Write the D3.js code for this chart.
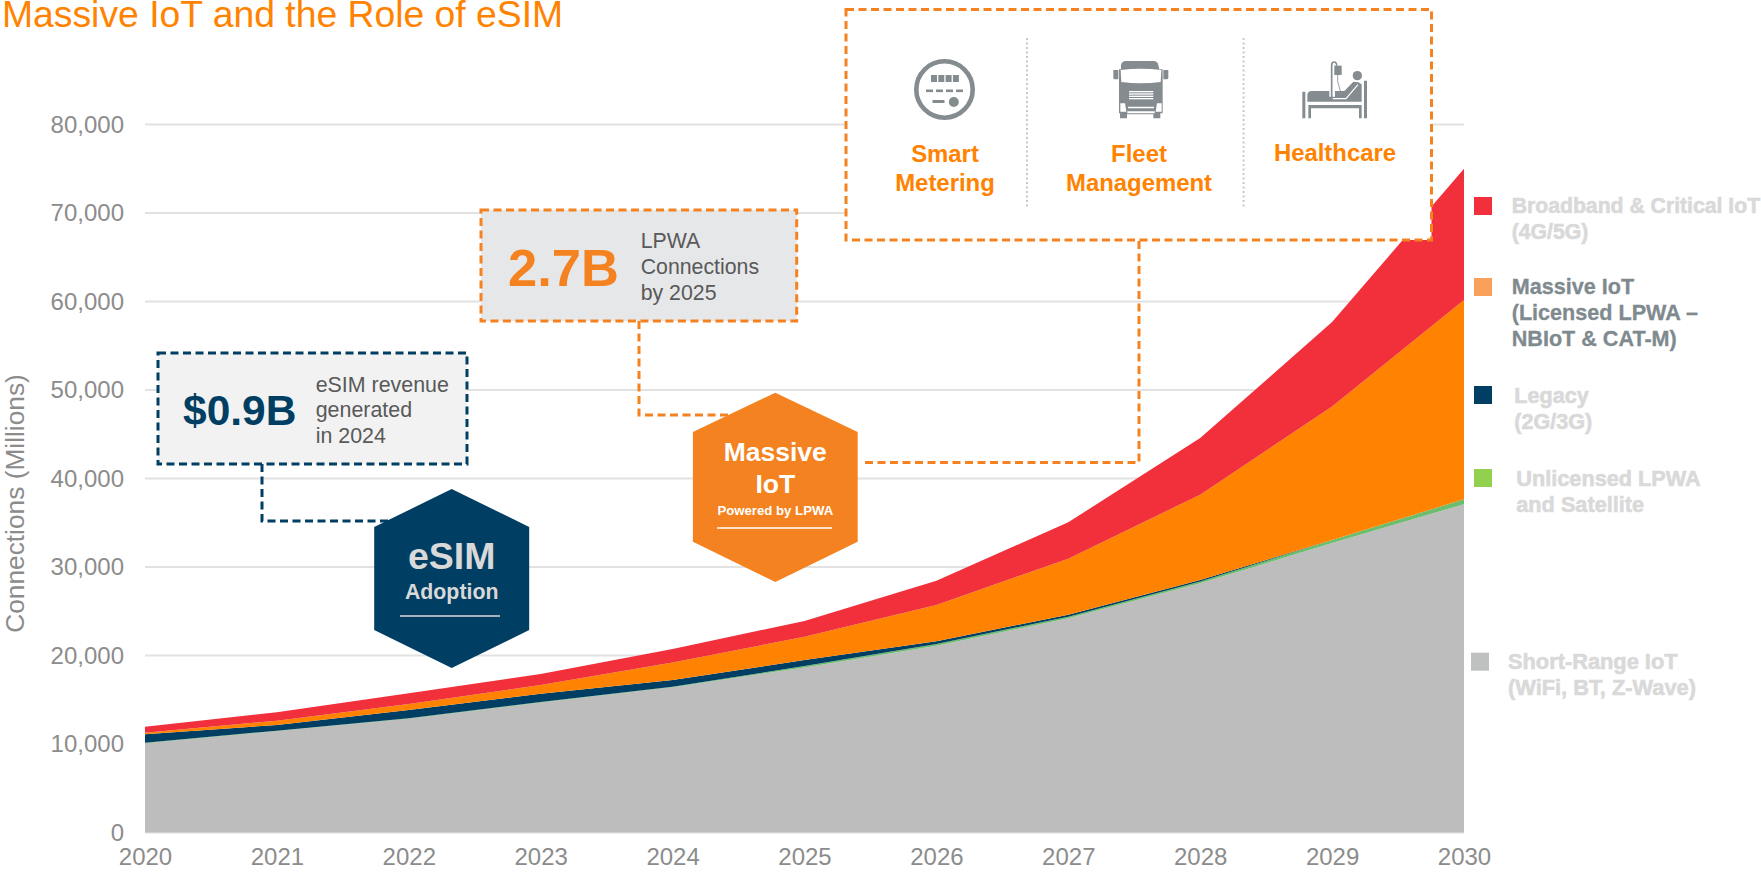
<!DOCTYPE html>
<html>
<head>
<meta charset="utf-8">
<title>Massive IoT and the Role of eSIM</title>
<script src="https://cdn.jsdelivr.net/npm/d3@7"></script>
<style>
  html, body { margin: 0; padding: 0; background: #fff; overflow: hidden; }
  svg { display: block; }
  text { font-family: "Liberation Sans", Arial, sans-serif; }
</style>
</head>
<body>
<div id="chart"></div>
<script>
// values, millions of connections
const years = [2020, 2021, 2022, 2023, 2024, 2025, 2026, 2027, 2028, 2029, 2030];
const shortRange = [10080, 11470, 12850, 14700, 16400, 18650, 21100, 24200, 28150, 32700, 37100];
const unlicensed = [70, 30, 50, 50, 70, 150, 200, 190, 200, 350, 550];
const legacy = [940, 650, 940, 930, 760, 680, 300, 220, 180, 0, 0];
const massive = [190, 480, 680, 990, 1970, 2640, 4100, 6330, 9640, 15080, 22520];
const broadband = [670, 950, 1210, 1230, 1530, 1780, 2750, 4110, 6410, 9540, 14830];

const yTicks = [0, 10000, 20000, 30000, 40000, 50000, 60000, 70000, 80000];
const seriesKeys = ["shortRange", "unlicensed", "legacy", "massive", "broadband"];
const seriesColors = ["#bdbdbd", "#6cbd6e", "#003f63", "#ff8300", "#f1303c"];

const orange = "#f58220";
const navy = "#003f63";
const iconGrey = "#858c90";

const width = 1761, height = 877;
const svg = d3.select("#chart").append("svg")
  .attr("width", width)
  .attr("height", height);

const x = d3.scaleLinear().domain([2020, 2030]).range([145, 1464]);
const y = d3.scaleLinear().domain([0, 80000]).range([832.5, 124.5]);

// grid
svg.append("g")
  .selectAll("line")
  .data(yTicks)
  .join("line")
  .attr("x1", x(2020))
  .attr("x2", x(2030))
  .attr("y1", d => y(d))
  .attr("y2", d => y(d))
  .attr("stroke", "#e2e2e2")
  .attr("stroke-width", 2);

// stacked areas
const rows = years.map((year, i) => ({
  year,
  shortRange: shortRange[i],
  unlicensed: unlicensed[i],
  legacy: legacy[i],
  massive: massive[i],
  broadband: broadband[i]
}));
const stacked = d3.stack().keys(seriesKeys)(rows);
const area = d3.area()
  .x(d => x(d.data.year))
  .y0(d => y(d[0]))
  .y1(d => y(d[1]));

svg.append("g")
  .selectAll("path")
  .data(stacked)
  .join("path")
  .attr("d", area)
  .attr("fill", (d, i) => seriesColors[i]);

// axes
const yAxis = d3.axisLeft(y)
  .tickValues(yTicks)
  .tickSize(0)
  .tickPadding(21)
  .tickFormat(d3.format(","));
svg.append("g")
  .attr("transform", `translate(${x(2020)},0)`)
  .call(yAxis)
  .call(g => g.select(".domain").remove())
  .call(g => g.selectAll("text")
    .attr("font-size", 24)
    .attr("font-family", "'Liberation Sans', Arial, sans-serif")
    .attr("fill", "#8c8c8c"));

const xAxis = d3.axisBottom(x)
  .tickValues(years)
  .tickSize(0)
  .tickPadding(15)
  .tickFormat(d3.format("d"));
svg.append("g")
  .attr("transform", `translate(0,${y(0)})`)
  .call(xAxis)
  .call(g => g.select(".domain").remove())
  .call(g => g.selectAll("text")
    .attr("font-size", 24)
    .attr("font-family", "'Liberation Sans', Arial, sans-serif")
    .attr("fill", "#8c8c8c"));

svg.append("text")
  .attr("transform", "translate(24,503.5) rotate(-90)")
  .attr("text-anchor", "middle")
  .attr("font-size", 26.3)
  .attr("fill", "#8c8c8c")
  .text("Connections (Millions)");

// title
svg.append("text")
  .attr("x", 2)
  .attr("y", 27)
  .attr("font-size", 37.3)
  .attr("fill", "#ff8300")
  .text("Massive IoT and the Role of eSIM");

function dashed(points, color) {
  svg.append("path")
    .attr("d", d3.line()(points))
    .attr("fill", "none")
    .attr("stroke", color)
    .attr("stroke-width", 3)
    .attr("stroke-dasharray", "8,4.5");
}

function calloutBox(x0, y0, x1, y1, fill, color) {
  svg.append("rect")
    .attr("x", x0).attr("y", y0)
    .attr("width", x1 - x0).attr("height", y1 - y0)
    .attr("fill", fill)
    .attr("stroke", color)
    .attr("stroke-width", 3)
    .attr("stroke-dasharray", "8,4.5");
}

function hexagon(cx, top, bottom, rx, ySide0, ySide1, color) {
  svg.append("polygon")
    .attr("points", [[cx, top], [cx + rx, ySide0], [cx + rx, ySide1], [cx, bottom], [cx - rx, ySide1], [cx - rx, ySide0]].join(" "))
    .attr("fill", color);
}

function label(px, py, str, size, color, bold, anchor) {
  return svg.append("text")
    .attr("x", px)
    .attr("y", py)
    .attr("font-size", size)
    .attr("font-weight", bold ? "bold" : "normal")
    .attr("text-anchor", anchor || "start")
    .attr("fill", color)
    .text(str);
}

// connectors go under the boxes and hexagons
dashed([[262, 464], [262, 521], [400, 521]], navy);
dashed([[639, 321], [639, 415], [740, 415]], orange);
dashed([[865, 462.5], [1139, 462.5], [1139, 240]], orange);

// eSIM callout
calloutBox(158, 353, 467, 464, "#f2f2f2", navy);
label(183, 425, "$0.9B", 42.5, navy, true);
label(315.7, 391.7, "eSIM revenue", 21.4, "#595959");
label(315.7, 417, "generated", 21.4, "#595959");
label(315.7, 443, "in 2024", 21.4, "#595959");

hexagon(451.7, 489, 668, 77.5, 527, 630, navy);
label(451.7, 569, "eSIM", 37.5, "#d9d9d9", true, "middle");
label(451.7, 599, "Adoption", 21.3, "#d9d9d9", true, "middle");
svg.append("line").attr("x1", 400).attr("x2", 500).attr("y1", 616).attr("y2", 616)
  .attr("stroke", "#d9d9d9").attr("stroke-width", 1.5);

// LPWA callout
calloutBox(481, 210, 796.7, 321, "#e6e7e8", orange);
label(508, 285.7, "2.7B", 52.5, orange, true);
label(640.7, 248, "LPWA", 21.3, "#595959");
label(640.7, 274, "Connections", 21.3, "#595959");
label(640.7, 300, "by 2025", 21.3, "#595959");

hexagon(775.3, 392.7, 582, 82.4, 432, 541.7, orange);
label(775.3, 460.7, "Massive", 26.5, "#fff", true, "middle");
label(775.3, 493, "IoT", 26.5, "#fff", true, "middle");
label(775.3, 515, "Powered by LPWA", 13.2, "#fff", true, "middle");
svg.append("line").attr("x1", 717).attr("x2", 832).attr("y1", 528).attr("y2", 528)
  .attr("stroke", "#fff").attr("stroke-width", 1.5);

// applications box sits on top of the areas
calloutBox(846, 9.5, 1431.5, 240, "#fff", orange);
[1027, 1243.6].forEach(px => {
  svg.append("line")
    .attr("x1", px).attr("x2", px).attr("y1", 38).attr("y2", 209)
    .attr("stroke", "#c9c9c9").attr("stroke-width", 2).attr("stroke-dasharray", "2,2.5");
});
label(945, 162, "Smart", 23.9, "#ff8300", true, "middle");
label(945, 191, "Metering", 23.9, "#ff8300", true, "middle");
label(1139, 162, "Fleet", 23.9, "#ff8300", true, "middle");
label(1139, 191, "Management", 23.9, "#ff8300", true, "middle");
label(1335, 161, "Healthcare", 23.9, "#ff8300", true, "middle");

// meter icon
const meter = svg.append("g").attr("fill", iconGrey);
meter.append("circle").attr("cx", 944.5).attr("cy", 89.5).attr("r", 28.2)
  .attr("fill", "none").attr("stroke", iconGrey).attr("stroke-width", 4.6);
[931, 938.3, 945.6, 952.9].forEach(px => {
  meter.append("rect").attr("x", px).attr("y", 75).attr("width", 6).attr("height", 7);
});
[926, 936, 946, 956].forEach(px => {
  meter.append("rect").attr("x", px).attr("y", 89.5).attr("width", 7).attr("height", 2.6);
});
meter.append("rect").attr("x", 932.5).attr("y", 100).attr("width", 12).attr("height", 3);
meter.append("circle").attr("cx", 953.8).attr("cy", 102).attr("r", 5);

// truck icon, path units are 1/3 px
const truck = svg.append("g").attr("transform", "translate(1100,50) scale(0.3333)");
truck.append("path").attr("fill", iconGrey)
  .attr("d", "M63,45 Q65,33 78,33 H160 Q173,33 175,45 L178,58 H188 V88 H188 V190 H181 V205 H160 V193 H81 V205 H60 V190 H57 V88 V58 H63 Z M40,60 H55 V88 H44 Q40,88 40,84 Z M190,60 H205 V84 Q205,88 201,88 H190 Z");
truck.append("path").attr("fill", "#fff")
  .attr("d", "M62,60 Q123,52 184,60 L182,96 Q123,104 64,96 Z M61,160 H75 L79,185 H61 Z M185,160 H171 L167,185 H185 Z M84,170 H162 V175 H84 Z M82,184 H164 V190 H82 Z");
truck.append("g").attr("fill", "#fff")
  .selectAll("rect")
  .data([123, 130, 137, 144])
  .join("rect")
  .attr("x", 87).attr("y", d => d).attr("width", 73).attr("height", 4);

// bed icon, same units
const bed = svg.append("g").attr("transform", "translate(1290,50) scale(0.3333)");
bed.append("path").attr("fill", iconGrey)
  .attr("d", "M37,125 H46 V205 H37 Z M222,92 H231 V205 H222 Z M55,165 H215 V175 H55 Z M55,175 H63 V205 H55 Z M207,175 H215 V205 H207 Z");
bed.append("path").attr("fill", iconGrey)
  .attr("d", "M52,155 V136 Q52,123 66,123 H118 V155 Z M135,123 H163 L190,95 L205,97 L215,103 V155 H118 V140 H135 Z");
bed.append("path").attr("fill", "none").attr("stroke", "#fff").attr("stroke-width", 3.5)
  .attr("d", "M128,146 H168 L204,104");
bed.append("circle").attr("cx", 202).attr("cy", 77).attr("r", 14).attr("fill", iconGrey);
bed.append("rect").attr("x", 133).attr("y", 47).attr("width", 22).attr("height", 28).attr("fill", iconGrey);
bed.append("path").attr("fill", "none").attr("stroke", iconGrey).attr("stroke-width", 5)
  .attr("d", "M125,146 V45 Q125,36 132,36 Q140,36 140,47");
bed.append("path").attr("fill", "none").attr("stroke", iconGrey).attr("stroke-width", 2.5)
  .attr("d", "M143,75 V95 L151,123");

// legend
const legendSwatches = ["#f1303c", "#f9a15a", navy, "#92d050", "#bfc1c1"];
const legendSwatchX = [1474, 1474, 1474, 1474, 1471];
const legendSwatchY = [197, 278, 386, 469, 652.7];
const legendX = [1511.7, 1511.7, 1514.3, 1516.3, 1508];
const legendSizes = [21.2, 21.6, 21.6, 21.7, 21.8];
const legendLines = [
  ["Broadband & Critical IoT", "(4G/5G)"],
  ["Massive IoT", "(Licensed LPWA –", "NBIoT & CAT-M)"],
  ["Legacy", "(2G/3G)"],
  ["Unlicensed LPWA", "and Satellite"],
  ["Short-Range IoT", "(WiFi, BT, Z-Wave)"]
];
const legendBaselines = [212.7, 294, 403, 486, 669];

legendLines.forEach((lines, i) => {
  svg.append("rect")
    .attr("x", legendSwatchX[i]).attr("y", legendSwatchY[i])
    .attr("width", 18).attr("height", 18)
    .attr("fill", legendSwatches[i]);
  lines.forEach((str, j) => {
    const active = i === 1;
    const t = label(legendX[i], legendBaselines[i] + j * 26, str, legendSizes[i], active ? "#7f8a8f" : "#d9d9d9", true);
    if (!active) t.attr("stroke", "#d9d9d9").attr("stroke-width", 0.6);
    else t.attr("stroke", "#7f8a8f").attr("stroke-width", 0.3);
  });
});
</script>
</body>
</html>
